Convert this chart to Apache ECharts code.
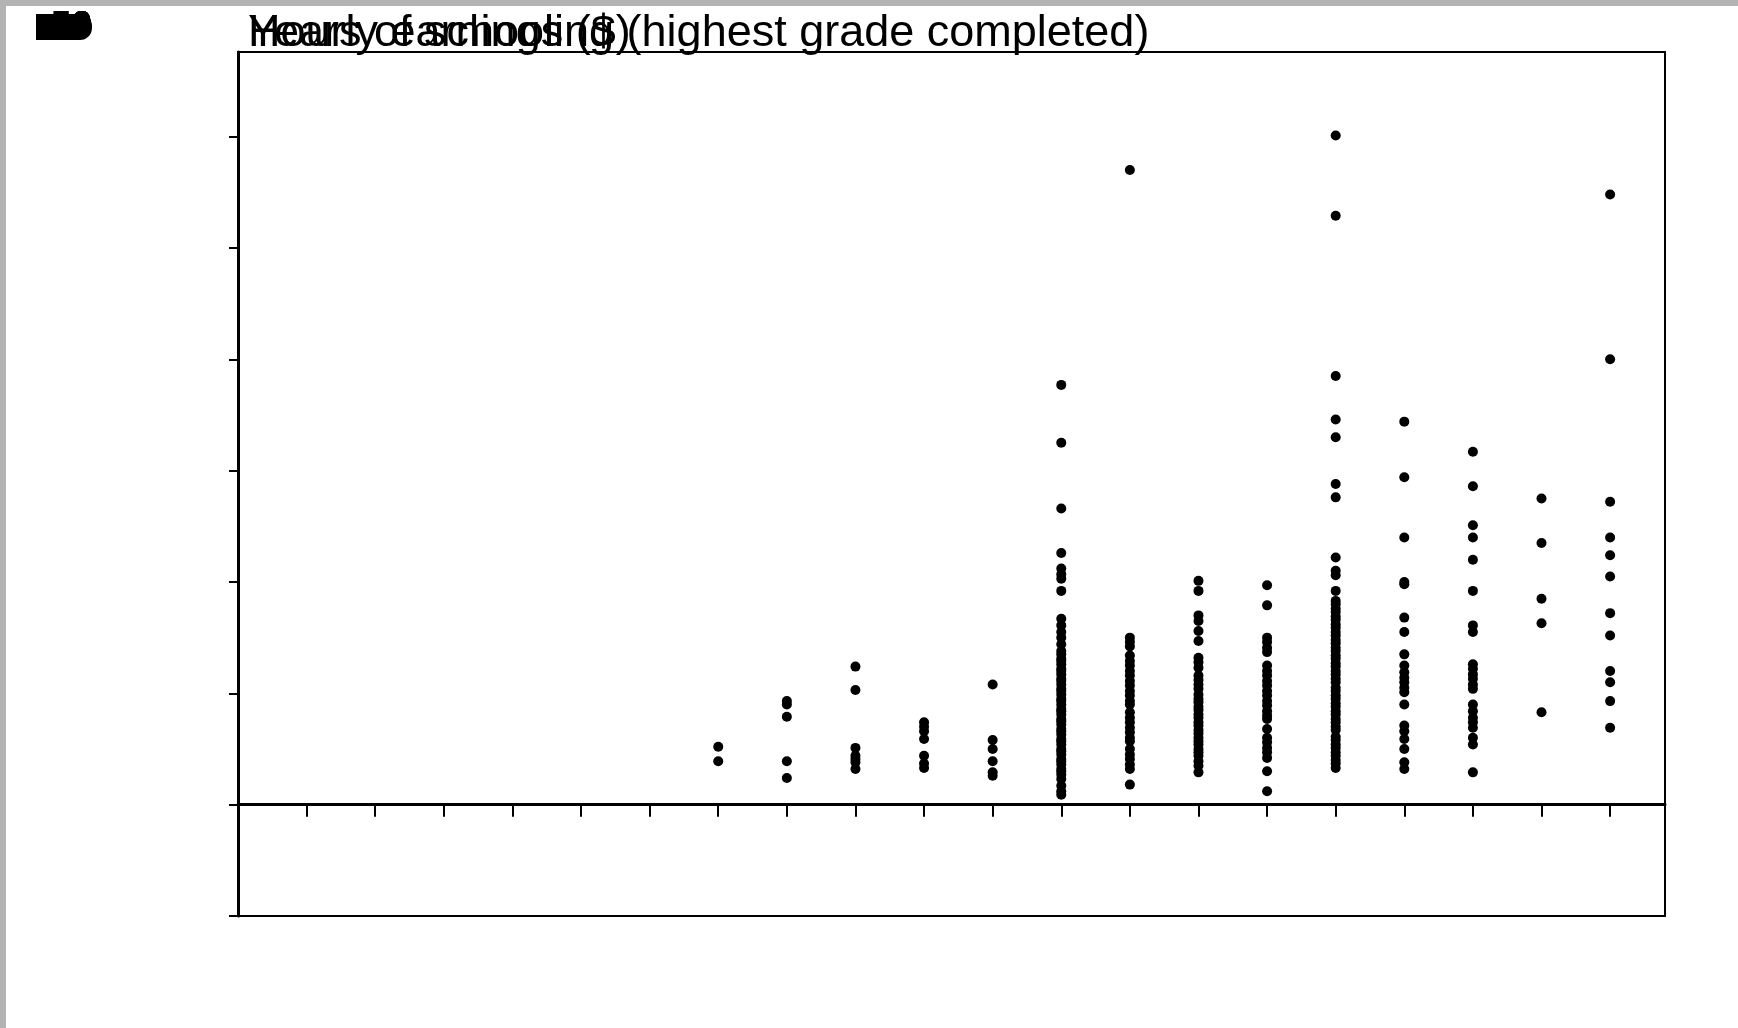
<!DOCTYPE html>
<html>
<head>
<meta charset="utf-8">
<script src="https://cdn.jsdelivr.net/npm/echarts@6/dist/echarts.min.js"></script>
<style>
  html, body { margin: 0; padding: 0; background: #fff; }
  #chart { width: 1738px; height: 1028px; }
</style>
</head>
<body>
<div id="chart"></div>
<script>
// Titles (both drawn at the same spot in the reference)
const yTitle = 'Hourly earnings ($)';
const xTitle = 'Years of schooling (highest grade completed)';

// Tick values (labels are all stacked in the top-left corner in the reference)
const xTicks = [1,2,3,4,5,6,7,8,9,10,11,12,13,14,15,16,17,18,19,20];
const yTicks = [-10,0,10,20,30,40,50,60];
const yTickLabels = ['-10','0','10','20','30','40','50','60'];

// Years of schooling categories present in the data
const schooling = [7,8,9,10,11,12,13,14,15,16,17,18,19,20];

// Hourly earnings ($) observed at each schooling level
const earn7  = [5.2, 3.9];
const earn8  = [9.3, 9.0, 7.9, 3.9, 2.4];
const earn9  = [12.4, 10.3, 5.1, 4.4, 4.1, 3.8, 3.2];
const earn10 = [7.4, 7.0, 6.6, 5.9, 4.4, 3.7, 3.3];
const earn11 = [10.8, 5.8, 5.0, 3.9, 2.9, 2.6];
const earn12 = [37.7, 32.5, 26.6, 22.6, 21.2, 20.7, 20.3, 19.2, 16.7, 16.1, 15.5, 15.0, 14.4,
                13.8, 13.5, 13.1, 12.9, 12.6, 12.2, 12.0, 11.7, 11.3, 11.1, 10.8, 10.4, 10.2,
                9.9, 9.5, 9.3, 9.0, 8.6, 8.4, 8.1, 7.7, 7.5, 7.2, 6.8, 6.6, 6.3, 5.9, 5.7,
                5.4, 5.0, 4.8, 4.5, 4.1, 3.9, 3.6, 3.2, 3.0, 2.7, 2.3, 1.7, 1.2, 0.9];
const earn13 = [57.0, 15.0, 14.6, 14.2, 13.4, 12.9, 12.5, 12.0, 11.6, 11.1, 10.7, 10.2, 9.8, 9.3,
                9.0, 8.3, 7.8, 7.4, 6.9, 6.5, 6.0, 5.7, 5.0, 4.5, 4.1, 3.6, 3.2, 1.8];
const earn14 = [20.1, 19.2, 17.0, 16.5, 15.6, 14.7, 13.2, 12.8, 12.3, 11.6, 11.2, 10.8, 10.4, 9.9,
                9.5, 9.2, 8.8, 8.5, 8.1, 7.8, 7.4, 7.1, 6.7, 6.4, 6.0, 5.7, 5.4, 5.0, 4.7, 4.4,
                3.9, 3.5, 2.9];
const earn15 = [19.7, 17.9, 15.0, 14.6, 14.1, 13.7, 12.5, 12.0, 11.6, 11.1, 10.7, 10.2, 9.8, 9.3,
                8.9, 8.4, 8.0, 7.7, 6.8, 6.0, 5.6, 5.1, 4.7, 4.2, 3.0, 1.2];
const earn16 = [60.1, 52.9, 38.5, 34.6, 33.0, 28.8, 27.6, 22.2, 21.0, 20.6, 19.2,
                18.3, 18.0, 17.6, 17.3, 16.9, 16.6, 16.2, 15.9, 15.5, 15.2, 14.8, 14.5, 14.1,
                13.8, 13.4, 13.1, 12.7, 12.4, 12.0, 11.7, 11.3, 11.0, 10.5, 10.2, 9.8, 9.5,
                9.1, 8.8, 8.4, 8.1, 7.7, 7.4, 7.0, 6.7, 6.1, 5.8, 5.4, 5.1, 4.7, 4.4, 4.0,
                3.7, 3.3];
const earn17 = [34.4, 29.4, 24.0, 20.0, 19.8, 16.8, 15.5, 13.5, 12.5, 11.9, 11.4, 11.0, 10.5, 10.1,
                9.0, 7.1, 6.6, 5.9, 5.0, 3.8, 3.2];
const earn18 = [31.7, 28.6, 25.1, 24.0, 22.0, 19.2, 16.1, 15.5, 12.6, 12.2, 11.7, 11.3, 10.8, 10.4,
                9.0, 8.4, 7.8, 7.4, 6.9, 6.0, 5.4, 2.9];
const earn19 = [27.5, 23.5, 18.5, 16.3, 8.3];
const earn20 = [54.8, 40.0, 27.2, 24.0, 22.4, 20.5, 17.2, 15.2, 12.0, 11.0, 9.3, 6.9];

const earnings = [earn7, earn8, earn9, earn10, earn11, earn12, earn13, earn14,
                  earn15, earn16, earn17, earn18, earn19, earn20];

const points = [];
schooling.forEach((yrs, i) => {
  earnings[i].forEach(v => points.push([yrs, v]));
});

const chart = echarts.init(document.getElementById('chart'), null, { renderer: 'canvas' });

const FONT = '"Liberation Sans", Arial, sans-serif';

// All y tick labels are stacked on top of each other in the top-left corner,
// forming a solid black block.
const stackedLabels = yTickLabels.map((t, i) => ({
  type: 'text',
  x: 92, y: 27,
  style: Object.assign({
    text: t,
    fill: '#000',
    font: 'bold 37px ' + FONT,
    lineHeight: 26,
    align: 'right',
    verticalAlign: 'middle'
  }, i === 0 ? { backgroundColor: '#000', borderRadius: [0, 12, 12, 0], width: 56, padding: 0 } : {}),
  z: 10
}));

chart.setOption({
  animation: false,
  backgroundColor: '#fff',
  grid: {
    left: 238, right: 73, top: 52, bottom: 112,
    show: true,
    borderColor: '#000',
    borderWidth: 2,
    backgroundColor: 'transparent'
  },
  xAxis: {
    type: 'value',
    min: 0, max: 20.8,
    axisLine: { show: true, onZero: true, lineStyle: { color: '#000', width: 3 } },
    axisTick: { show: true, inside: false, length: 12, customValues: xTicks,
                lineStyle: { color: '#000', width: 2 } },
    axisLabel: { show: false },
    splitLine: { show: false }
  },
  yAxis: {
    type: 'value',
    min: -10, max: 67.6,
    axisLine: { show: true, onZero: false, lineStyle: { color: '#000', width: 3 } },
    axisTick: { show: true, inside: false, length: 9, customValues: yTicks,
                lineStyle: { color: '#000', width: 2 } },
    axisLabel: { show: false },
    splitLine: { show: false }
  },
  graphic: [
    { type: 'rect', shape: { x: 0, y: 0, width: 1738, height: 6 }, style: { fill: '#b3b3b3' }, z: 20 },
    { type: 'rect', shape: { x: 0, y: 0, width: 6, height: 1028 }, style: { fill: '#b3b3b3' }, z: 20 },
    { type: 'text', x: 248, y: 34,
      style: { text: xTitle, fill: '#000', font: '45px ' + FONT, align: 'left', verticalAlign: 'middle' }, z: 10 },
    { type: 'text', x: 248, y: 34,
      style: { text: yTitle, fill: '#000', font: '45px ' + FONT, align: 'left', verticalAlign: 'middle' }, z: 10 }
  ].concat(stackedLabels),
  series: [{
    type: 'scatter',
    data: points,
    symbol: 'circle',
    symbolSize: 10,
    itemStyle: { color: '#000', opacity: 1 },
    silent: true
  }]
});
</script>
</body>
</html>
